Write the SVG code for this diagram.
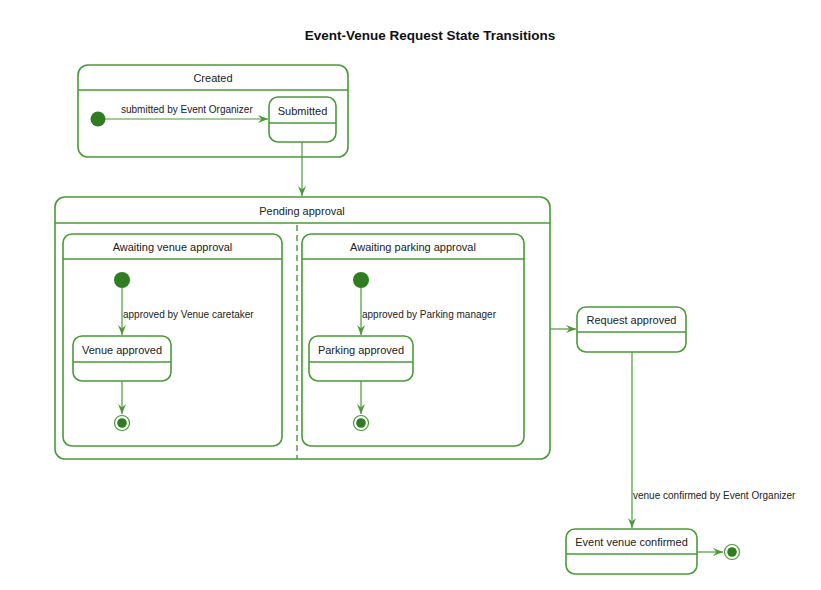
<svg xmlns="http://www.w3.org/2000/svg" width="821" height="590" viewBox="0 0 821 590">
<defs>
<style>
.st{fill:#ffffff;stroke:#4a9a38;stroke-width:1.6}
.ln{fill:none;stroke:#4a9a38;stroke-width:1.4}
.cn{fill:none;stroke:#4a9a38;stroke-width:1.2}
.dash{fill:none;stroke:#4a9a38;stroke-width:1.4;stroke-dasharray:6 4}
.dot{fill:#2f7d20}
.t{font-family:"Liberation Sans",Arial,sans-serif;font-size:11px;fill:#222;text-anchor:middle}
.lb{font-family:"Liberation Sans",Arial,sans-serif;font-size:10px;fill:#222}
.title{font-family:"Liberation Sans",Arial,sans-serif;font-size:13.5px;font-weight:bold;fill:#111;text-anchor:middle}
</style>
<marker id="arr" viewBox="0 0 10 8" refX="10" refY="4" markerWidth="10" markerHeight="8" markerUnits="userSpaceOnUse" orient="auto">
<path d="M0,0 L10,4 L0,8 L3.5,4 z" fill="#4a9a38"/>
</marker>
</defs>
<rect width="821" height="590" fill="#ffffff"/>
<text class="title" x="430" y="40">Event-Venue Request State Transitions</text>

<g id="created">
<rect class="st" x="78" y="65" width="270" height="92" rx="10"/>
<line class="ln" x1="78" y1="90" x2="348" y2="90"/>
<text class="t" x="213" y="82">Created</text>
</g>
<g id="created-init"><circle class="dot" cx="98" cy="119" r="7.5"/></g>
<g id="submitted">
<rect class="st" x="269" y="97" width="67" height="45" rx="9"/>
<line class="ln" x1="269" y1="123" x2="336" y2="123"/>
<text class="t" x="302.5" y="115">Submitted</text>
</g>

<g id="pending">
<rect class="st" x="55" y="197" width="495" height="262" rx="10"/>
<line class="ln" x1="55" y1="223" x2="550" y2="223"/>
<text class="t" x="302" y="215">Pending approval</text>
<line class="dash" x1="297" y1="225" x2="297" y2="459"/>
</g>

<g id="awaiting-venue">
<rect class="st" x="63" y="234" width="219" height="212" rx="9"/>
<line class="ln" x1="63" y1="259" x2="282" y2="259"/>
<text class="t" x="172.5" y="251">Awaiting venue approval</text>
</g>
<g id="venue-init"><circle class="dot" cx="122" cy="280" r="8"/></g>
<g id="venue-approved">
<rect class="st" x="73" y="336" width="98" height="45" rx="9"/>
<line class="ln" x1="73" y1="362" x2="171" y2="362"/>
<text class="t" x="122" y="354">Venue approved</text>
</g>
<g id="venue-final">
<circle cx="122" cy="423" r="7.5" fill="#fff" stroke="#4a9a38" stroke-width="1.2"/>
<circle class="dot" cx="122" cy="423" r="4.8"/>
</g>

<g id="awaiting-parking">
<rect class="st" x="302" y="234" width="222" height="212" rx="9"/>
<line class="ln" x1="302" y1="259" x2="524" y2="259"/>
<text class="t" x="413" y="251">Awaiting parking approval</text>
</g>
<g id="parking-init"><circle class="dot" cx="361" cy="280" r="8"/></g>
<g id="parking-approved">
<rect class="st" x="309" y="336" width="104" height="45" rx="9"/>
<line class="ln" x1="309" y1="362" x2="413" y2="362"/>
<text class="t" x="361" y="354">Parking approved</text>
</g>
<g id="parking-final">
<circle cx="361" cy="423" r="7.5" fill="#fff" stroke="#4a9a38" stroke-width="1.2"/>
<circle class="dot" cx="361" cy="423" r="4.8"/>
</g>

<g id="request-approved">
<rect class="st" x="577" y="307" width="109" height="45" rx="9"/>
<line class="ln" x1="577" y1="332" x2="686" y2="332"/>
<text class="t" x="631.5" y="324">Request approved</text>
</g>

<g id="event-venue-confirmed">
<rect class="st" x="566" y="529" width="131" height="45" rx="9"/>
<line class="ln" x1="566" y1="554" x2="697" y2="554"/>
<text class="t" x="631.5" y="546">Event venue confirmed</text>
</g>
<g id="final">
<circle cx="732" cy="552" r="7.5" fill="#fff" stroke="#4a9a38" stroke-width="1.2"/>
<circle class="dot" cx="732" cy="552" r="4.8"/>
</g>

<g id="connectors">
<line class="cn" x1="105" y1="119" x2="268" y2="119" marker-end="url(#arr)"/>
<text class="lb" x="121" y="113">submitted by Event Organizer</text>
<line class="cn" x1="302" y1="142" x2="302" y2="196" marker-end="url(#arr)"/>
<line class="cn" x1="122" y1="288" x2="122" y2="335" marker-end="url(#arr)"/>
<text class="lb" x="123" y="318">approved by Venue caretaker</text>
<line class="cn" x1="122" y1="381" x2="122" y2="414" marker-end="url(#arr)"/>
<line class="cn" x1="361" y1="288" x2="361" y2="335" marker-end="url(#arr)"/>
<text class="lb" x="362" y="318">approved by Parking manager</text>
<line class="cn" x1="361" y1="381" x2="361" y2="414" marker-end="url(#arr)"/>
<line class="cn" x1="550" y1="329" x2="576" y2="329" marker-end="url(#arr)"/>
<line class="cn" x1="632" y1="352" x2="632" y2="528" marker-end="url(#arr)"/>
<text class="lb" x="633" y="499">venue confirmed by Event Organizer</text>
<line class="cn" x1="697" y1="552" x2="723" y2="552" marker-end="url(#arr)"/>
</g>
</svg>
